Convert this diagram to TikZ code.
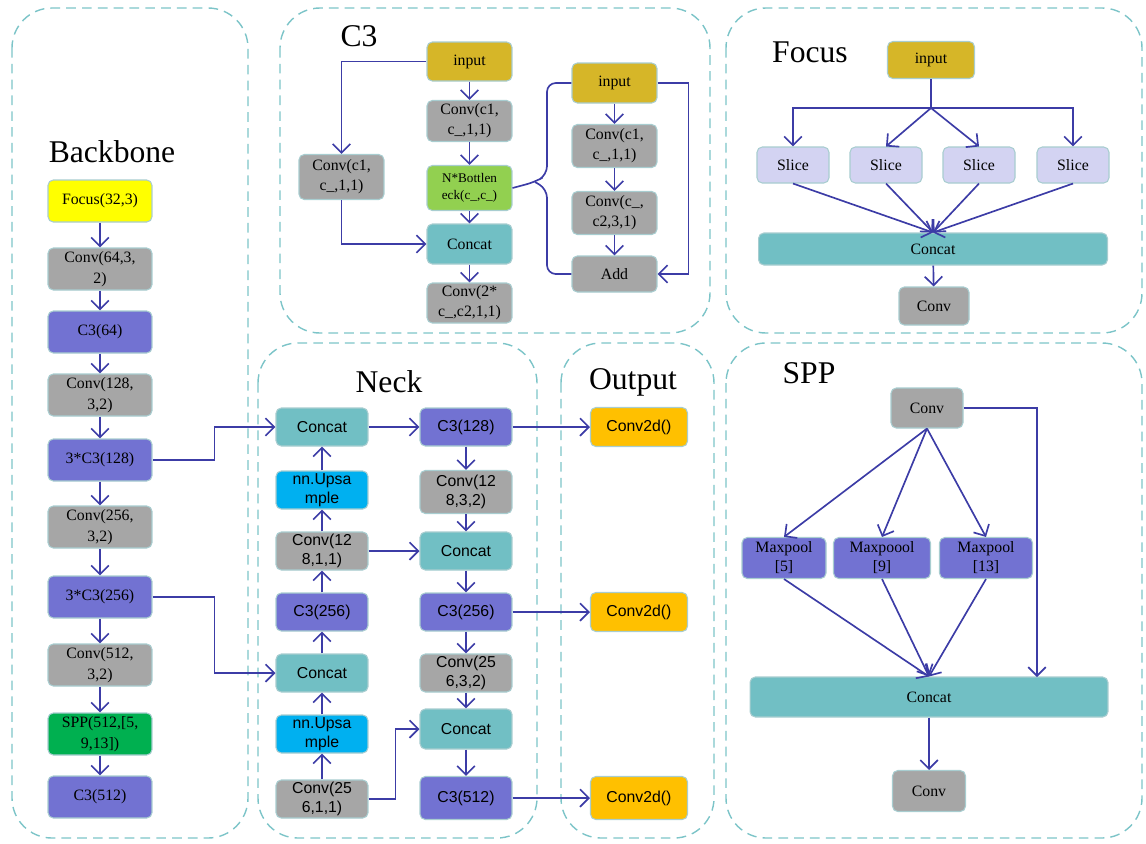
\documentclass[tikz,border=0pt]{standalone}
\usepackage{fontspec}
\setmainfont{Liberation Serif}
\newfontfamily\arialfont{Liberation Sans}
\usetikzlibrary{arrows.meta}

\definecolor{panelline}{HTML}{7CC4C8}
\definecolor{boxline}{HTML}{A8CDD0}
\definecolor{arrowcol}{HTML}{3C3CA6}
\definecolor{cyellow}{HTML}{FFFF00}
\definecolor{cgray}{HTML}{A6A6A6}
\definecolor{cpurple}{HTML}{7272D2}
\definecolor{cgreen}{HTML}{00B050}
\definecolor{clime}{HTML}{92D050}
\definecolor{cteal}{HTML}{71BFC4}
\definecolor{ccyan}{HTML}{00B0F0}
\definecolor{corange}{HTML}{FFC000}
\definecolor{cgold}{HTML}{D6B628}
\definecolor{clavender}{HTML}{D3D3F2}

\begin{document}
\begin{tikzpicture}[x=0.02cm, y=-0.02cm,
	panel/.style={draw=panelline, dash pattern=on 5.5pt off 3.5pt, line width=0.8pt, rounded corners=0.8cm},
	title/.style={font=\fontsize{18}{20}\selectfont},
	box/.style={draw=boxline, line width=0.6pt, rounded corners=3pt, align=center, inner sep=1pt, font=\fontsize{9}{12}\selectfont},
	sbox/.style={box, font=\arialfont\fontsize{9}{10.5}\selectfont},
	bbbox/.style={box, minimum width=2.08cm, minimum height=0.84cm},
	c3box/.style={box, minimum width=1.7cm, minimum height=0.82cm, font=\fontsize{9}{11.4}\selectfont},
	nkbox/.style={sbox, minimum width=1.84cm, minimum height=0.76cm},
	outbox/.style={sbox, minimum width=1.94cm, minimum height=0.78cm},
	slicebox/.style={box, fill=clavender, minimum width=1.44cm, minimum height=0.72cm},
	mpbox/.style={box, fill=cpurple, minimum height=0.82cm, font=\fontsize{9}{10.8}\selectfont},
	arrow/.style={draw=arrowcol, line width=0.95pt, -{Straight Barb[length=5pt,width=10pt]}},
	link/.style={draw=arrowcol, line width=0.95pt}]

	\useasboundingbox (0,0) rectangle (1146,843);

	\draw[panel] (12,8) rectangle (248,838);
	\draw[panel] (280,8) rectangle (710,333);
	\draw[panel] (726,8) rectangle (1142,333);
	\draw[panel] (258,343) rectangle (537,838);
	\draw[panel] (561,343) rectangle (714,838);
	\draw[panel] (726,343) rectangle (1142,838);

	\node[title] (tbackbone) at (112,152) {Backbone};
	\node[title] (tc3) at (359,36) {C3};
	\node[title] (tfocus) at (810,52) {Focus};
	\node[title] (tneck) at (389,382) {Neck};
	\node[title] (toutput) at (633,382) {Output};
	\node[title] (tspp) at (809,373) {SPP};

	\node[bbbox, fill=cyellow] (bbfocus) at (100,201) {Focus(32,3)};
	\node[bbbox, fill=cgray] (bbconv1) at (100,269) {Conv(64,3,\\2)};
	\node[bbbox, fill=cpurple] (bbc3a) at (100,332) {C3(64)};
	\node[bbbox, fill=cgray] (bbconv2) at (100,395) {Conv(128,\\3,2)};
	\node[bbbox, fill=cpurple] (bbc3b) at (100,460) {3*C3(128)};
	\node[bbbox, fill=cgray] (bbconv3) at (100,527) {Conv(256,\\3,2)};
	\node[bbbox, fill=cpurple] (bbc3c) at (100,597) {3*C3(256)};
	\node[bbbox, fill=cgray] (bbconv4) at (100,665) {Conv(512,\\3,2)};
	\node[bbbox, fill=cgreen] (bbspp) at (100,734) {SPP(512,[5,\\9,13])};
	\node[bbbox, fill=cpurple] (bbc3d) at (100,797) {C3(512)};

	\foreach \a/\b in {bbfocus/bbconv1, bbconv1/bbc3a, bbc3a/bbconv2, bbconv2/bbc3b, bbc3b/bbconv3, bbconv3/bbc3c, bbc3c/bbconv4, bbconv4/bbspp, bbspp/bbc3d}
		\draw[arrow] (\a) -- (\b);

	\node[c3box, fill=cgold, minimum height=0.78cm] (cin) at (469.5,61.5) {input};
	\node[c3box, fill=cgray] (cconv1) at (469.5,121) {Conv(c1,\\c\_,1,1)};
	\node[c3box, fill=clime, minimum height=0.9cm, font=\fontsize{7.5}{10}\selectfont] (cbott) at (469.5,188) {N*Bottlen\\eck(c\_,c\_)};
	\node[c3box, fill=cteal, minimum height=0.8cm] (ccat) at (469.5,244) {Concat};
	\node[c3box, fill=cgray, minimum height=0.8cm] (cconv3) at (469.5,303) {Conv(2*\\c\_,c2,1,1)};
	\node[c3box, fill=cgray, minimum height=0.9cm] (cconvl) at (341.5,177) {Conv(c1,\\c\_,1,1)};
	\node[c3box, fill=cgold, minimum height=0.8cm] (btin) at (614.5,83) {input};
	\node[c3box, fill=cgray, minimum height=0.86cm] (btconv1) at (614.5,146) {Conv(c1,\\c\_,1,1)};
	\node[c3box, fill=cgray, minimum height=0.86cm] (btconv2) at (614.5,213) {Conv(c\_,\\c2,3,1)};
	\node[c3box, fill=cgray, minimum height=0.72cm] (btadd) at (614.5,274) {Add};

	\foreach \a/\b in {cin/cconv1, cconv1/cbott, cbott/ccat, ccat/cconv3, btin/btconv1, btconv1/btconv2, btconv2/btadd}
		\draw[arrow] (\a) -- (\b);
	\draw[arrow] (cin.west) -| (cconvl.north);
	\draw[arrow] (cconvl.south) |- (ccat.west);
	\draw[arrow] (btin.east) -- ++(31,0) |- (btadd.east);
	\draw[link, rounded corners=5pt] (btin.west) -- (547,83) -- (547,175) -- (535,182) -- (cbott.east);
	\draw[link, rounded corners=5pt] (btadd.west) -- (547,274) -- (547,189) -- (535,182);

	\node[box, fill=cgold, minimum width=1.74cm, minimum height=0.74cm] (fin) at (931,60) {input};
	\node[slicebox] (fs1) at (793,165) {Slice};
	\node[slicebox] (fs2) at (886,165) {Slice};
	\node[slicebox] (fs3) at (979,165) {Slice};
	\node[slicebox] (fs4) at (1073,165) {Slice};
	\node[box, fill=cteal, minimum width=6.98cm, minimum height=0.64cm] (fcat) at (933,249) {Concat};
	\node[box, fill=cgray, minimum width=1.4cm, minimum height=0.76cm] (fconv) at (934,306) {Conv};

	\coordinate (fsplit) at (931,108);
	\draw[link] (fin) -- (fsplit);
	\draw[arrow] (fsplit) -| (fs1);
	\draw[arrow] (fsplit) -| (fs4);
	\draw[arrow] (fsplit) -- (fs2.north);
	\draw[arrow] (fsplit) -- (fs3.north);
	\foreach \s in {fs1, fs2, fs3, fs4}
		\draw[arrow] (\s.south) -- (fcat.north);
	\draw[arrow] (fcat) -- (fconv);

	\node[nkbox, fill=cteal] (ncat1) at (322,427) {Concat};
	\node[nkbox, fill=ccyan] (nup1) at (322,490) {nn.Upsa\\mple};
	\node[nkbox, fill=cgray] (nconv1) at (322,551) {Conv(12\\8,1,1)};
	\node[nkbox, fill=cpurple] (nc3a) at (322,612) {C3(256)};
	\node[nkbox, fill=cteal] (ncat2) at (322,673) {Concat};
	\node[nkbox, fill=ccyan] (nup2) at (322,734) {nn.Upsa\\mple};
	\node[nkbox, fill=cgray] (nconv2) at (322,799) {Conv(25\\6,1,1)};

	\node[nkbox, fill=cpurple] (nc3b) at (466,427) {C3(128)};
	\node[nkbox, fill=cgray, minimum height=0.86cm] (nconv3) at (466,492) {Conv(12\\8,3,2)};
	\node[nkbox, fill=cteal] (ncat3) at (466,551) {Concat};
	\node[nkbox, fill=cpurple] (nc3c) at (466,612) {C3(256)};
	\node[nkbox, fill=cgray] (nconv4) at (466,673) {Conv(25\\6,3,2)};
	\node[nkbox, fill=cteal, minimum height=0.8cm] (ncat4) at (466,729) {Concat};
	\node[nkbox, fill=cpurple, minimum height=0.86cm] (nc3d) at (466,798) {C3(512)};

	\node[outbox, fill=corange] (out1) at (639,427) {Conv2d()};
	\node[outbox, fill=corange] (out2) at (639,612) {Conv2d()};
	\node[outbox, fill=corange, minimum height=0.86cm] (out3) at (639,798) {Conv2d()};

	\draw[arrow] (bbc3b.east) -- ++(62,0) |- (ncat1.west);
	\draw[arrow] (bbc3c.east) -- ++(62,0) |- (ncat2.west);
	\foreach \a/\b in {nconv2/nup2, nup2/ncat2, ncat2/nc3a, nc3a/nconv1, nconv1/nup1, nup1/ncat1, ncat1/nc3b, nc3b/nconv3, nconv3/ncat3, ncat3/nc3c, nc3c/nconv4, nconv4/ncat4, ncat4/nc3d, nconv1/ncat3, nc3b/out1, nc3c/out2, nc3d/out3}
		\draw[arrow] (\a) -- (\b);
	\draw[arrow] (nconv2.east) -- ++(27,0) |- (ncat4.west);

	\node[box, fill=cgray, minimum width=1.44cm, minimum height=0.8cm] (sconv) at (927,408) {Conv};
	\node[mpbox, minimum width=1.68cm] (mp1) at (784,558) {Maxpool\\{[5]}};
	\node[mpbox, minimum width=1.94cm] (mp2) at (882,558) {Maxpoool\\{[9]}};
	\node[mpbox, minimum width=1.86cm] (mp3) at (986,558) {Maxpool\\{[13]}};
	\node[box, fill=cteal, minimum width=7.16cm, minimum height=0.8cm] (scat) at (929,697) {Concat};
	\node[box, fill=cgray, minimum width=1.46cm, minimum height=0.82cm] (sconv2) at (929,791) {Conv};

	\coordinate (sside) at (1037,677);
	\foreach \m in {mp1, mp2, mp3} {
		\draw[arrow] (sconv.south) -- (\m.north);
		\draw[arrow] (\m.south) -- (scat.north);
	}
	\draw[arrow] (sconv.east) -| (sside);
	\draw[arrow] (scat) -- (sconv2);

\end{tikzpicture}
\end{document}
